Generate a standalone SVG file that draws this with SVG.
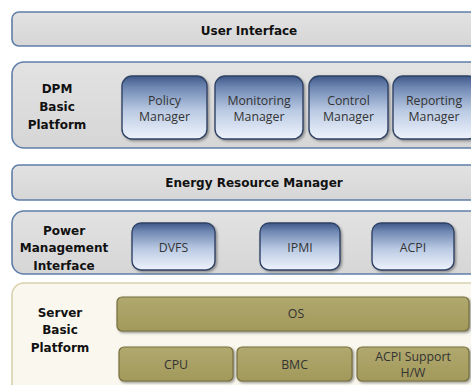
<svg xmlns="http://www.w3.org/2000/svg" width="471" height="385" viewBox="0 0 471 385">
<style>
.band{fill:url(#gBand);stroke:#5F7EA8;stroke-width:1.6}
.cream{fill:#FAF8EE;stroke:#D9D1AE;stroke-width:1.6}
.blue{fill:url(#gBlue);stroke:#2F4266;stroke-width:1.4}
.olive{fill:url(#gOlive);stroke:#77703E;stroke-width:1.2}
.hd{font-family:"DejaVu Sans",sans-serif;font-weight:bold;font-size:12px;fill:#111;text-anchor:middle}
.bt{font-family:"Open Sans","DejaVu Sans",sans-serif;font-size:12.3px;fill:#333;text-anchor:middle}
</style>
<defs>
<linearGradient id="gBand" x1="0" y1="0" x2="0" y2="1">
<stop offset="0" stop-color="#E2E2E2"/><stop offset="1" stop-color="#D6D6D6"/>
</linearGradient>
<linearGradient id="gBlue" x1="0" y1="0" x2="0" y2="1">
<stop offset="0" stop-color="#3E5888"/><stop offset="0.18" stop-color="#6F88B3"/><stop offset="0.55" stop-color="#BACAE3"/><stop offset="1" stop-color="#EEF3FC"/>
</linearGradient>
<linearGradient id="gOlive" x1="0" y1="0" x2="0" y2="1">
<stop offset="0" stop-color="#B0A86E"/><stop offset="1" stop-color="#A2995B"/>
</linearGradient>
<filter id="sh" x="-10%" y="-10%" width="130%" height="140%">
<feDropShadow dx="1.5" dy="1.5" stdDeviation="0.8" flood-color="#555" flood-opacity="0.6"/>
</filter>
</defs>
<rect width="471" height="385" fill="#fff"/>
<g id="user-interface">
<rect class="band" x="12" y="12" width="480" height="34" rx="7"/>
<text class="hd" x="249" y="35">User Interface</text>
</g>
<g id="dpm-basic-platform">
<rect class="band" x="12" y="62" width="480" height="86" rx="12"/>
<text class="hd" x="57" y="93">DPM</text>
<text class="hd" x="57" y="111">Basic</text>
<text class="hd" x="57" y="129">Platform</text>
</g>
<g id="policy-manager">
<rect class="blue" x="122" y="76" width="85" height="63" rx="10" filter="url(#sh)"/>
<text class="bt" x="164.5" y="105">Policy</text>
<text class="bt" x="164.5" y="121">Manager</text>
</g>
<g id="monitoring-manager">
<rect class="blue" x="215" y="76" width="88" height="63" rx="10" filter="url(#sh)"/>
<text class="bt" x="259" y="105">Monitoring</text>
<text class="bt" x="259" y="121">Manager</text>
</g>
<g id="control-manager">
<rect class="blue" x="309" y="76" width="79" height="63" rx="10" filter="url(#sh)"/>
<text class="bt" x="348.5" y="105">Control</text>
<text class="bt" x="348.5" y="121">Manager</text>
</g>
<g id="reporting-manager">
<rect class="blue" x="393" y="76" width="85" height="63" rx="10" filter="url(#sh)"/>
<text class="bt" x="434" y="105">Reporting</text>
<text class="bt" x="434" y="121">Manager</text>
</g>
<g id="energy-resource-manager">
<rect class="band" x="12" y="165" width="480" height="35" rx="7"/>
<text class="hd" x="254" y="187">Energy Resource Manager</text>
</g>
<g id="power-management-interface">
<rect class="band" x="12" y="211" width="480" height="63" rx="12"/>
<text class="hd" x="64" y="235">Power</text>
<text class="hd" x="64" y="252">Management</text>
<text class="hd" x="64" y="270">Interface</text>
</g>
<g id="dvfs">
<rect class="blue" x="132" y="223" width="83" height="47" rx="9" filter="url(#sh)"/>
<text class="bt" x="173.5" y="252">DVFS</text>
</g>
<g id="ipmi">
<rect class="blue" x="260" y="223" width="80" height="47" rx="9" filter="url(#sh)"/>
<text class="bt" x="300" y="252">IPMI</text>
</g>
<g id="acpi">
<rect class="blue" x="372" y="223" width="82" height="47" rx="9" filter="url(#sh)"/>
<text class="bt" x="413" y="252">ACPI</text>
</g>
<g id="server-basic-platform">
<rect class="cream" x="12" y="283" width="480" height="120" rx="12"/>
<text class="hd" x="60" y="317">Server</text>
<text class="hd" x="60" y="334">Basic</text>
<text class="hd" x="60" y="352">Platform</text>
</g>
<g id="os">
<rect class="olive" x="117" y="297" width="352" height="34" rx="5" filter="url(#sh)"/>
<text class="bt" x="296" y="318">OS</text>
</g>
<g id="cpu">
<rect class="olive" x="119" y="347" width="114" height="34" rx="5" filter="url(#sh)"/>
<text class="bt" x="176" y="369">CPU</text>
</g>
<g id="bmc">
<rect class="olive" x="237" y="347" width="115" height="34" rx="5" filter="url(#sh)"/>
<text class="bt" x="294.5" y="369">BMC</text>
</g>
<g id="acpi-support-hw">
<rect class="olive" x="357" y="347" width="112" height="34" rx="5" filter="url(#sh)"/>
<text class="bt" x="413" y="361">ACPI Support</text>
<text class="bt" x="413" y="377">H/W</text>
</g>
<g id="connectors"/>
</svg>
